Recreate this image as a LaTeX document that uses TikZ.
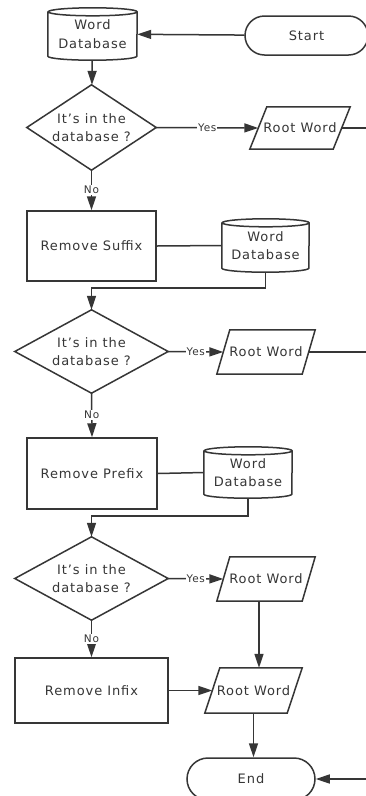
\documentclass[tikz,border=0pt]{standalone}
\usepackage{fontspec}
\setmainfont{DejaVu Sans}[LetterSpace=7]
\usetikzlibrary{arrows.meta,shapes.misc,calc}
\definecolor{inkc}{HTML}{363636}
\tikzset{
  x=1pt, y=1pt,
  ln/.style={draw=inkc, line width=1.5pt},
  arr/.style={ln, -{Triangle[length=14pt,width=9pt]}},
  shapetext/.style={font=\fontsize{13}{18.5}\selectfont, text=inkc, align=center, inner sep=0pt},
  procbox/.style={shapetext, ln, rectangle},
  frame/.style={shapetext, rectangle},
  terminal/.style={shapetext, ln, rounded rectangle},
  lbl/.style={font=\fontsize{10.5}{12}\selectfont, text=inkc, fill=white, inner sep=1pt},
}
% outline of a database cylinder around a frame node: #1 node, #2 half width
\newcommand\cylout[2]{%
  \draw[ln] ($(#1.north west)+(0,-4)$) -- ($(#1.south west)+(0,4)$)
    arc[start angle=180,end angle=360,x radius=#2pt,y radius=4pt]
    -- ($(#1.north east)+(0,-4)$)
    arc[start angle=0,end angle=180,x radius=#2pt,y radius=4pt]
    arc[start angle=180,end angle=360,x radius=#2pt,y radius=4pt];}
% outline of a data parallelogram: #1 node, #2 slant offset
\newcommand\paraout[2]{%
  \draw[ln] ($(#1.north west)+(#2,0)$) -- ($(#1.north east)+(#2,0)$)
    -- ($(#1.south east)+(-#2,0)$) -- ($(#1.south west)+(-#2,0)$) -- cycle;}
% outline of a decision diamond
\newcommand\diaout[1]{\draw[ln] (#1.north) -- (#1.east) -- (#1.south) -- (#1.west) -- cycle;}

\begin{document}
\begin{tikzpicture}
\fill[white] (0,0) rectangle (366,-796);
\clip (0,0) rectangle (366,-796);
\useasboundingbox (0,0) rectangle (366,-796);

% ---- nodes ----
\node[terminal, minimum width=123pt, minimum height=39pt] (start) at (306.5,-35.5) {Start};
\node[frame, minimum width=89pt, minimum height=52pt] (db1) at (92.5,-34) {Word\\Database};
\cylout{db1}{44.5}
\node[frame, minimum width=129pt, minimum height=85pt] (q1) at (91.5,-127.5) {It’s in the\\database ?};
\diaout{q1}
\node[frame, minimum width=83pt, minimum height=42pt] (rw1) at (300,-128) {Root Word};
\paraout{rw1}{8.5}

\node[procbox, minimum width=129pt, minimum height=70pt] (suf) at (91.5,-246) {Remove Suffix};
\node[frame, minimum width=87pt, minimum height=53pt] (db2) at (265.5,-245.5) {Word\\Database};
\cylout{db2}{43.5}
\node[frame, minimum width=153pt, minimum height=83pt] (q2) at (91.5,-351.5) {It’s in the\\database ?};
\diaout{q2}
\node[frame, minimum width=85pt, minimum height=44pt] (rw2) at (266,-352) {Root Word};
\paraout{rw2}{6.5}

\node[procbox, minimum width=130pt, minimum height=71pt] (pre) at (92,-473.5) {Remove Prefix};
\node[frame, minimum width=88pt, minimum height=51pt] (db3) at (248,-472.5) {Word\\Database};
\cylout{db3}{44}
\node[frame, minimum width=153pt, minimum height=83pt] (q3) at (91.5,-578.5) {It’s in the\\database ?};
\diaout{q3}
\node[frame, minimum width=85pt, minimum height=44pt] (rw3) at (266,-579) {Root Word};
\paraout{rw3}{6.5}

\node[procbox, minimum width=153pt, minimum height=65pt] (inf) at (91.5,-690.5) {Remove Infix};
\node[frame, minimum width=82pt, minimum height=45pt] (rw4) at (253.5,-690.5) {Root Word};
\paraout{rw4}{7.5}
\node[terminal, minimum width=128pt, minimum height=42pt] (end) at (251,-779) {End};

\coordinate (out1) at (372,-128);
\coordinate (out2) at (372,-352);
\coordinate (in3) at (372,-779);

% ---- connectors ----
\draw[arr] (start) -- (db1);
\draw[arr] (db1) -- (q1);
\draw[arr] (q1.east) -- node[lbl]{Yes} (rw1.west);
\draw[ln] (rw1.east) -- (out1);
\draw[arr] (q1.south) -- node[lbl]{No} (suf.north);
\draw[ln] (suf.east) -- (db2.west);
\draw[arr] (db2.south) -- ++(0,-16) -| (q2.north);
\draw[arr] (q2.east) -- node[lbl]{Yes} (rw2.west);
\draw[ln] (rw2.east) -- (out2);
\draw[arr] (q2.south) -- node[lbl]{No} (pre.north);
\draw[ln] (pre.east) -- (db3.west);
\draw[arr] (db3.south) -- ++(0,-18) -| (q3.north);
\draw[arr] (q3.east) -- node[lbl]{Yes} (rw3.west);
\draw[arr] (q3.south) -- node[lbl]{No} (inf.north);
\draw[arr] ([xshift=-7pt]rw3.south) -- ([xshift=-7pt]rw3.south |- rw4.north);
\draw[arr] (inf.east) -- (rw4.west);
\draw[arr] (rw4.south) -- (rw4.south |- end.north);
\draw[arr] (in3) -- (end.east);
\end{tikzpicture}
\end{document}
